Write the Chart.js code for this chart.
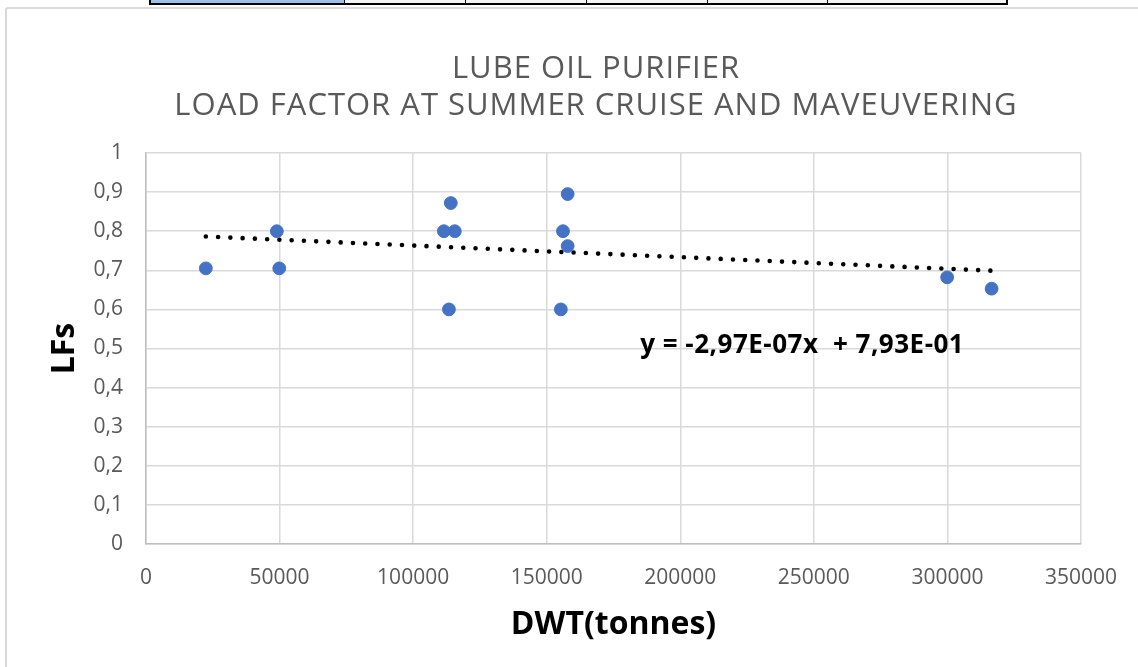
<!DOCTYPE html>
<html>
<head>
<meta charset="utf-8">
<script src="https://cdn.jsdelivr.net/npm/chart.js@4.4.1/dist/chart.umd.min.js"></script>
<style>
  html, body { margin: 0; padding: 0; background: #fff; }
  body { width: 1138px; height: 667px; position: relative; overflow: hidden; }
  #frame { position: absolute; left: 5px; top: 7px; width: 1200px; height: 700px; border: 2px solid #d9d9d9; border-radius: 3px; }
  #sheet { position: absolute; left: 149px; top: 0; height: 3px; display: flex; border: 2px solid #000; border-top: none; }
  #sheet div { height: 3px; border-right: 1.5px solid #000; background: #f4f4f4; }
  #sheet div:last-child { border-right: none; }
  #sheet div.sel { background: #9dbfe6; }
  #wrap { position: absolute; left: 0; top: 0; width: 1138px; height: 667px; }
</style>
</head>
<body>
<div id="frame"></div>
<div id="sheet">
  <div class="sel" style="width:193px"></div>
  <div style="width:120px"></div>
  <div style="width:120px"></div>
  <div style="width:120px"></div>
  <div style="width:119px"></div>
  <div style="width:178px"></div>
</div>
<div id="wrap"><canvas id="chart"></canvas></div>
<script>
// valeurs
const dwt = [22400, 48980, 49880, 111500, 115600, 114100, 113400, 157850, 156100, 157850, 155300, 299900, 316550];
const lfs = [0.705, 0.8, 0.705, 0.8, 0.8, 0.872, 0.6, 0.895, 0.8, 0.762, 0.6, 0.682, 0.653];

// courbe de tendance (equation affichee)
const slope = -2.97e-7;
const intercept = 0.793;
const eqText = 'y = -2,97E-07x  + 7,93E-01';
const eqLabelAt = [185000, 0.489];

const titleLines = ['LUBE OIL PURIFIER', 'LOAD FACTOR AT SUMMER CRUISE AND MAVEUVERING'];
const yTitle = 'LFs';
const xTicks = [0, 50000, 100000, 150000, 200000, 250000, 300000, 350000];
const yTicks = ['0', '0,1', '0,2', '0,3', '0,4', '0,5', '0,6', '0,7', '0,8', '0,9', '1'];

const points = dwt.map((x, i) => ({ x: x, y: lfs[i] }));
const xMin = Math.min(...dwt);
const xMax = Math.max(...dwt);
const trend = [xMin, xMax].map(x => ({ x: x, y: slope * x + intercept }));

const FONT = '"Open Sans", Lato, sans-serif';

// titre centre sur toute la zone du graphique (comme Excel) + titre de l'axe Y
const chartTitle = {
    id: 'chartTitle',
    afterDraw(chart) {
        const { ctx, chartArea } = chart;
        ctx.save();
        ctx.font = '31px ' + FONT;
        ctx.letterSpacing = '1px';
        ctx.fillStyle = '#595959';
        ctx.textAlign = 'center';
        ctx.textBaseline = 'alphabetic';
        titleLines.forEach((line, i) => ctx.fillText(line, 596, 78 + i * 37.3));
        ctx.restore();

        ctx.save();
        ctx.font = 'bold 32px ' + FONT;
        ctx.fillStyle = '#000';
        ctx.textAlign = 'center';
        ctx.textBaseline = 'middle';
        ctx.translate(65, (chartArea.top + chartArea.bottom) / 2);
        ctx.rotate(-Math.PI / 2);
        ctx.fillText(yTitle, 0, 0);
        ctx.restore();
    }
};

const equationLabel = {
    id: 'equationLabel',
    afterDatasetsDraw(chart) {
        const { ctx, scales } = chart;
        ctx.save();
        ctx.font = 'bold 26px ' + FONT;
        ctx.letterSpacing = '0.5px';
        ctx.fillStyle = '#000';
        ctx.textAlign = 'left';
        ctx.textBaseline = 'alphabetic';
        ctx.fillText(eqText, scales.x.getPixelForValue(eqLabelAt[0]), scales.y.getPixelForValue(eqLabelAt[1]));
        ctx.restore();
    }
};

new Chart(document.getElementById('chart'), {
    type: 'scatter',
    data: {
        datasets: [
            {
                label: 'LFs',
                data: points,
                backgroundColor: '#4472c4',
                borderColor: '#4472c4',
                pointRadius: 6.4,
                pointHoverRadius: 6.4,
                order: 1
            },
            {
                type: 'line',
                label: 'Tendance',
                data: trend,
                borderColor: '#000',
                borderWidth: 4.6,
                borderDash: [0, 12.27],
                borderCapStyle: 'round',
                pointRadius: 0,
                fill: false,
                order: 2
            }
        ]
    },
    options: {
        responsive: true,
        maintainAspectRatio: false,
        animation: false,
        layout: { padding: { left: 0, right: 56, top: 153, bottom: 0 } },
        plugins: {
            legend: { display: false },
            tooltip: { enabled: false },
            title: { display: false }
        },
        scales: {
            x: {
                type: 'linear',
                min: 0,
                max: 350000,
                afterBuildTicks: s => { s.ticks = xTicks.map(v => ({ value: v })); },
                afterFit: s => { s.height = 123; },
                grid: { color: '#d9d9d9', lineWidth: 1.5, drawTicks: false },
                border: { color: '#bfbfbf', width: 1.5 },
                ticks: {
                    color: '#595959',
                    padding: 21,
                    maxRotation: 0,
                    font: { family: FONT, size: 21 },
                    callback: v => String(v)
                },
                title: {
                    display: true,
                    text: 'DWT(tonnes)',
                    color: '#000',
                    font: { family: FONT, size: 32, weight: 'bold' },
                    padding: { top: 0, bottom: 23 }
                }
            },
            y: {
                type: 'linear',
                min: 0,
                max: 1,
                afterBuildTicks: s => { s.ticks = yTicks.map((t, i) => ({ value: i / 10 })); },
                afterFit: s => { s.width = 146; },
                grid: { color: '#d9d9d9', lineWidth: 1.5, drawTicks: false },
                border: { color: '#bfbfbf', width: 1.5 },
                ticks: {
                    color: '#595959',
                    padding: 23,
                    font: { family: FONT, size: 21 },
                    callback: (v, i) => yTicks[i]
                },
                title: { display: false }
            }
        }
    },
    plugins: [chartTitle, equationLabel]
});
</script>
</body>
</html>
